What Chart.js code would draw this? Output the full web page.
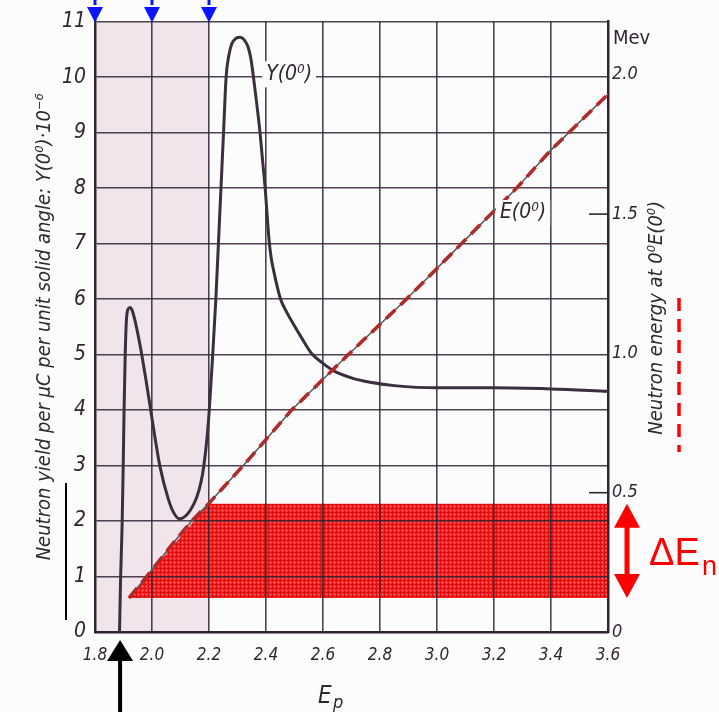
<!DOCTYPE html>
<html><head><meta charset="utf-8">
<script src="https://cdn.jsdelivr.net/npm/chart.js@4.4.1/dist/chart.umd.min.js"></script>
<style>html,body{margin:0;padding:0;background:#fcfcfc;} canvas{display:block;}</style>
</head><body>
<canvas id="c" width="719" height="712"></canvas>
<script>
// ---- data ----
const xTicks = [1.8, 2.0, 2.2, 2.4, 2.6, 2.8, 3.0, 3.2, 3.4, 3.6];
const yTicks = [0, 1, 2, 3, 4, 5, 6, 7, 8, 9, 10, 11];
const mevTicks = [0, 0.5, 1.0, 1.5, 2.0];
const mevTickLabels = ['0', '0.5', '1.0', '1.5', '2.0'];

const yieldEp  = [1.886, 1.890, 1.895, 1.899, 1.902, 1.906, 1.910, 1.916, 1.923, 1.930, 1.940, 1.952, 1.964, 1.978, 1.993, 2.010, 2.028, 2.057, 2.075, 2.096, 2.115, 2.135, 2.157, 2.172, 2.182, 2.193, 2.201, 2.213, 2.224, 2.233, 2.242, 2.251, 2.260, 2.270, 2.280, 2.295, 2.309, 2.322, 2.338, 2.348, 2.356, 2.368, 2.379, 2.388, 2.397, 2.411, 2.418, 2.426, 2.451, 2.473, 2.496, 2.525, 2.560, 2.600, 2.636, 2.700, 2.765, 2.850, 3.000, 3.200, 3.400, 3.600];
const yieldVal = [0.00,  1.00,  1.90,  3.00,  4.00,  5.00,  5.60,  5.82,  5.85,  5.80,  5.62,  5.33,  5.00,  4.57,  4.08,  3.52,  2.98,  2.40,  2.16,  2.04,  2.08,  2.20,  2.43,  2.70,  3.00,  3.50,  4.00,  5.00,  6.00,  7.00,  8.00,  9.00,  10.00, 10.40, 10.60, 10.70, 10.72, 10.68, 10.53, 10.30, 10.00, 9.50,  9.00,  8.50,  8.00,  7.05,  6.75,  6.53,  6.00,  5.76,  5.55,  5.30,  5.02,  4.84,  4.71,  4.58,  4.50,  4.44,  4.40,  4.40,  4.38,  4.34];

const energyEp  = [1.919, 1.981, 2.087, 2.139, 2.198, 2.326, 2.490, 2.689, 2.893, 3.086, 3.280, 3.397, 3.600];
const energyMev = [0.122, 0.199, 0.335, 0.398, 0.460, 0.604, 0.797, 0.996, 1.195, 1.394, 1.594, 1.727, 1.930];

const spreadEp  = [1.919, 2.198, 3.6];
const spreadTop = [0.122, 0.460, 0.460];
const spreadBase = 0.122;

const shadeEp  = [1.8, 2.2];
const shadeTop = [11, 11];

const markerEp = [1.8, 2.0, 2.2];
const thresholdEp = 1.888;
const yMax = 11;
const mevMax = 2.191;

const leftTitle = 'Neutron yield per \u03bcC per unit solid angle: Y(0\u2070)\u00b710\u207b\u2076';
const rightTitle = 'Neutron energy at 0\u2070E(0\u2070)';

// ---- helpers ----
const pts = (xs, ys) => xs.map((x, i) => ({x: x, y: ys[i]}));
const FONT = "'DejaVu Sans Condensed', 'Liberation Sans Narrow', 'DejaVu Sans', sans-serif";
const INK = '#2f2632';

function hatch() {
  const c = document.createElement('canvas');
  c.width = 4; c.height = 4;
  const g = c.getContext('2d');
  g.fillStyle = '#ff2a2a'; g.fillRect(0, 0, 4, 4);
  g.fillStyle = '#e01010'; g.fillRect(0, 0, 4, 1); g.fillRect(0, 0, 1, 4);
  g.fillStyle = '#ff7a7a'; g.fillRect(2, 2, 1, 1);
  return g.createPattern(c, 'repeat');
}

const deco = {
  id: 'deco',
  afterDraw(chart) {
    const ctx = chart.ctx, a = chart.chartArea;
    const sx = chart.scales.x, sy = chart.scales.y, sm = chart.scales.y2;
    ctx.save();
    // inner ticks on right axis
    ctx.strokeStyle = INK; ctx.lineWidth = 1.6;
    [0.5, 1.5].forEach(v => {
      const yy = sm.getPixelForValue(v);
      ctx.beginPath(); ctx.moveTo(a.right - 19, yy); ctx.lineTo(a.right, yy); ctx.stroke();
    });
    // curve labels with white background
    ctx.font = 'italic 21px ' + FONT;
    ctx.textAlign = 'center'; ctx.textBaseline = 'middle';
    const lab = (t, x, y) => {
      const w = ctx.measureText(t).width;
      ctx.fillStyle = '#fcfcfc'; ctx.fillRect(x - w / 2 - 4, y - 13, w + 8, 26);
      ctx.fillStyle = INK; ctx.fillText(t, x, y);
    };
    lab('Y(0\u2070)', sx.getPixelForValue(2.481), sy.getPixelForValue(10.05));
    lab('E(0\u2070)', sx.getPixelForValue(3.302), sy.getPixelForValue(7.55));
    // Mev unit
    ctx.font = '20px ' + FONT; ctx.fillStyle = INK; ctx.textAlign = 'left';
    ctx.fillText('Mev', a.right + 5, a.top + 17);
    // right title (reads bottom to top)
    ctx.save();
    ctx.translate(a.right + 49, (a.top + a.bottom) / 2 - 9);
    ctx.rotate(-Math.PI / 2);
    ctx.font = 'italic 20px ' + FONT; ctx.textAlign = 'center';
    ctx.fillText(rightTitle, 0, 0);
    ctx.restore();
    // x title E_p
    ctx.font = 'italic 24px ' + FONT; ctx.textAlign = 'left'; ctx.textBaseline = 'alphabetic';
    ctx.fillText('E', 318, 703);
    ctx.font = 'italic 18px ' + FONT;
    ctx.fillText('p', 333, 708);
    // blue arrows at top
    ctx.fillStyle = '#0a14ff'; ctx.strokeStyle = '#0a14ff'; ctx.lineWidth = 3;
    markerEp.forEach(v => {
      const px = sx.getPixelForValue(v);
      ctx.beginPath(); ctx.moveTo(px, 0); ctx.lineTo(px, 5); ctx.stroke();
      ctx.beginPath(); ctx.moveTo(px - 8, 7); ctx.lineTo(px + 8, 7); ctx.lineTo(px, a.top + 1); ctx.closePath(); ctx.fill();
    });
    // black threshold arrow
    const tx = sx.getPixelForValue(thresholdEp);
    ctx.fillStyle = '#000';
    ctx.beginPath(); ctx.moveTo(tx, a.bottom + 8); ctx.lineTo(tx + 13, a.bottom + 29); ctx.lineTo(tx - 13, a.bottom + 29); ctx.closePath(); ctx.fill();
    ctx.fillRect(tx - 2, a.bottom + 28, 4, 712 - a.bottom - 28);
    // red double arrow for Delta E_n
    const ax = a.right + 19, yt = sm.getPixelForValue(0.46), yb = sm.getPixelForValue(spreadBase);
    ctx.fillStyle = '#ff0000';
    ctx.beginPath(); ctx.moveTo(ax, yt); ctx.lineTo(ax + 13, yt + 24); ctx.lineTo(ax - 13, yt + 24); ctx.closePath(); ctx.fill();
    ctx.beginPath(); ctx.moveTo(ax, yb); ctx.lineTo(ax + 13, yb - 24); ctx.lineTo(ax - 13, yb - 24); ctx.closePath(); ctx.fill();
    ctx.fillRect(ax - 2.5, yt + 22, 5, yb - yt - 44);
    ctx.font = '38px "Liberation Sans", Arial, sans-serif';
    ctx.fillText('\u0394E', a.right + 41, (yt + yb) / 2 + 14);
    ctx.font = '27px "Liberation Sans", Arial, sans-serif';
    ctx.fillText('n', a.right + 94, (yt + yb) / 2 + 24);
    // red dashed legend-like mark
    ctx.strokeStyle = '#ff0000'; ctx.lineWidth = 3.5; ctx.setLineDash([13, 8]);
    ctx.beginPath(); ctx.moveTo(a.right + 71, 298); ctx.lineTo(a.right + 71, 452); ctx.stroke();
    ctx.setLineDash([]);
    // black bar at left
    ctx.strokeStyle = '#000'; ctx.lineWidth = 2;
    ctx.beginPath(); ctx.moveTo(66, 483); ctx.lineTo(66, 620); ctx.stroke();
    ctx.restore();
  }
};

const tickSet = arr => s => { s.ticks = arr.map(v => ({value: v})); };

new Chart(document.getElementById('c'), {
  type: 'scatter',
  data: {
    datasets: [
      { label: 'spread', data: pts(spreadEp, spreadTop), yAxisID: 'y2', showLine: true,
        borderWidth: 0, pointRadius: 0, fill: {value: spreadBase}, backgroundColor: hatch() },
      { label: 'shade', data: pts(shadeEp, shadeTop), yAxisID: 'y', showLine: true,
        borderWidth: 0, pointRadius: 0, fill: 'origin', backgroundColor: '#f1e4eb' },
      { label: 'E base', data: pts(energyEp, energyMev), yAxisID: 'y2', showLine: true,
        borderColor: '#555', borderWidth: 1.5, pointRadius: 0, fill: false },
      { label: 'E(0)', data: pts(energyEp, energyMev), yAxisID: 'y2', showLine: true,
        borderColor: '#ff0000', borderWidth: 3.5, borderDash: [13, 7], pointRadius: 0, fill: false },
      { label: 'Y(0)', data: pts(yieldEp, yieldVal), yAxisID: 'y', showLine: true,
        borderColor: '#3a2f3c', borderWidth: 3, pointRadius: 0, fill: false,
        cubicInterpolationMode: 'monotone' }
    ]
  },
  options: {
    responsive: false, animation: false, devicePixelRatio: 1,
    layout: { padding: { top: 20, left: 0, right: 0, bottom: 0 } },
    plugins: { legend: { display: false }, tooltip: { enabled: false }, filler: { drawTime: 'beforeDraw' } },
    scales: {
      x: {
        type: 'linear', min: 1.8, max: 3.6,
        afterBuildTicks: tickSet(xTicks),
        afterFit: s => { s.height = 80; },
        grid: { color: 'rgba(45,35,50,0.85)', lineWidth: 1.6, drawTicks: false },
        border: { color: INK, width: 2.5 },
        ticks: { padding: 13, color: INK, font: { family: FONT, size: 17, style: 'italic' },
                 callback: (v, i) => xTicks[i].toFixed(1), maxRotation: 0, autoSkip: false }
      },
      y: {
        type: 'linear', position: 'left', min: 0, max: yMax,
        afterBuildTicks: tickSet(yTicks),
        afterFit: s => { s.width = 95; },
        grid: { color: 'rgba(45,35,50,0.85)', lineWidth: 1.6, drawTicks: false },
        border: { color: INK, width: 2.5 },
        ticks: { padding: 9, color: INK, font: { family: FONT, size: 21, style: 'italic' }, autoSkip: false },
        title: { display: true, text: leftTitle, color: INK, padding: { top: 33 },
                 font: { family: FONT, size: 20, style: 'italic' } }
      },
      y2: {
        type: 'linear', position: 'right', min: 0, max: mevMax,
        afterBuildTicks: tickSet(mevTicks),
        afterFit: s => { s.width = 111; },
        grid: { display: false, drawTicks: false },
        border: { display: true, color: INK, width: 2.5 },
        ticks: { padding: 4, color: INK, font: { family: FONT, size: 18, style: 'italic' },
                 callback: (v, i) => mevTickLabels[i], autoSkip: false }
      }
    }
  },
  plugins: [deco]
});
</script>
</body></html>
